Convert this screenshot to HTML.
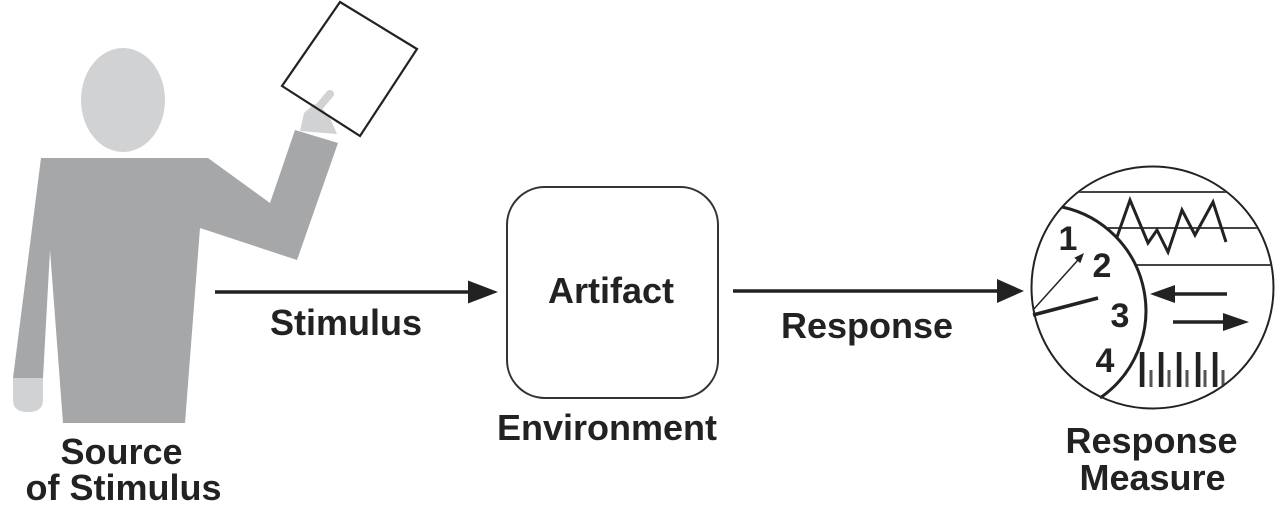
<!DOCTYPE html>
<html>
<head>
<meta charset="utf-8">
<style>
  html,body{margin:0;padding:0;background:#fff;}
  body{width:1284px;height:515px;overflow:hidden;}
  svg{display:block;}
  text{font-family:"Liberation Sans", Arial, sans-serif;font-weight:bold;fill:#222;}
</style>
</head>
<body>
<svg width="1284" height="515" viewBox="0 0 1284 515" xmlns="http://www.w3.org/2000/svg">
  <defs>
    <clipPath id="circ">
      <circle cx="1152.5" cy="287.5" r="120"/>
    </clipPath>
  </defs>

  <!-- Person -->
  <ellipse cx="123" cy="100" rx="42" ry="52" fill="#d1d2d4"/>
  <polygon points="41,158 208,158 270,203 295,130 338,143 297,260 200,228 185,423 63,423 50,250 43,378 13,378" fill="#a6a7a9"/>
  <!-- lower hand -->
  <path d="M13,378 L43,378 L43,400 Q43,412 28,412 Q13,412 13,400 Z" fill="#d1d2d4"/>
  <!-- paper fill -->
  <polygon points="340,2 417,49 360,136 282,86" fill="#fff"/>
  <!-- raised hand -->
  <polygon points="300,131 304,113 314,104 322,108 330,118 337,134" fill="#d1d2d4"/>
  <line x1="318" y1="108" x2="330" y2="94" stroke="#d1d2d4" stroke-width="8" stroke-linecap="round"/>
  <!-- paper outline -->
  <polygon points="340,2 417,49 360,136 282,86" fill="none" stroke="#222" stroke-width="2.2"/>

  <!-- Stimulus arrow -->
  <line x1="215" y1="292" x2="472" y2="292" stroke="#222" stroke-width="3.5"/>
  <polygon points="498,292 468,280.5 468,303.5" fill="#222"/>

  <!-- Artifact box -->
  <rect x="507" y="187" width="211" height="211" rx="38" ry="38" fill="none" stroke="#333" stroke-width="2"/>

  <!-- Response arrow -->
  <line x1="733" y1="291" x2="1000" y2="291" stroke="#222" stroke-width="3.5"/>
  <polygon points="1024,291 997,279 997,303" fill="#222"/>

  <!-- Response measure circle -->
  <g clip-path="url(#circ)">
    <line x1="1070" y1="192" x2="1240" y2="192" stroke="#444" stroke-width="2"/>
    <line x1="1108" y1="228" x2="1275" y2="228" stroke="#444" stroke-width="2"/>
    <line x1="1137" y1="265" x2="1275" y2="265" stroke="#444" stroke-width="2"/>
    <!-- bars -->
    <g fill="#222">
      <rect x="1139.8" y="352" width="4.6" height="35"/>
      <rect x="1158.8" y="352" width="4.6" height="35"/>
      <rect x="1176.8" y="352" width="4.6" height="35"/>
      <rect x="1195.8" y="352" width="4.6" height="35"/>
      <rect x="1212.8" y="352" width="4.6" height="35"/>
    </g>
    <g fill="#555">
      <rect x="1149.5" y="370" width="3" height="17"/>
      <rect x="1167.5" y="370" width="3" height="17"/>
      <rect x="1185.5" y="370" width="3" height="17"/>
      <rect x="1203.5" y="370" width="3" height="17"/>
      <rect x="1221.5" y="370" width="3" height="17"/>
    </g>
  </g>
  <circle cx="1152.5" cy="287.5" r="121" fill="none" stroke="#222" stroke-width="2"/>
  <!-- dividing arc -->
  <path d="M1062,207 A106,106 0 0 1 1100,398" fill="none" stroke="#222" stroke-width="3"/>
  <!-- zigzag -->
  <polyline points="1117,237 1130,200 1148,243 1157,230 1168,252 1182,210 1195,235 1213,202 1226,242" fill="none" stroke="#222" stroke-width="3"/>
  <!-- left arrow -->
  <line x1="1170" y1="294" x2="1227" y2="294" stroke="#222" stroke-width="3.5"/>
  <polygon points="1150,294 1175,285 1175,303" fill="#222"/>
  <!-- right arrow -->
  <line x1="1173" y1="322" x2="1226" y2="322" stroke="#222" stroke-width="3.5"/>
  <polygon points="1249,322 1223,313 1223,331" fill="#222"/>
  <!-- dial needle + thin arrow -->
  <line x1="1033" y1="315" x2="1098" y2="298" stroke="#222" stroke-width="3.5"/>
  <line x1="1033" y1="310" x2="1078" y2="260" stroke="#222" stroke-width="1.5"/>
  <polygon points="1084,253 1080.3,263.2 1074.3,257.8" fill="#222"/>
  <!-- digits -->
  <text x="1068" y="250" font-size="34" text-anchor="middle">1</text>
  <text x="1102" y="277" font-size="34" text-anchor="middle">2</text>
  <text x="1120" y="327" font-size="34" text-anchor="middle">3</text>
  <text x="1105" y="372" font-size="34" text-anchor="middle">4</text>

  <!-- Labels -->
  <text x="611" y="303" font-size="36" text-anchor="middle">Artifact</text>
  <text x="346" y="335" font-size="36" text-anchor="middle">Stimulus</text>
  <text x="867" y="338" font-size="36" text-anchor="middle">Response</text>
  <text x="607" y="440" font-size="36" text-anchor="middle">Environment</text>
  <text x="121.5" y="464" font-size="36" text-anchor="middle">Source</text>
  <text x="123.5" y="500" font-size="36" text-anchor="middle">of Stimulus</text>
  <text x="1151.5" y="453" font-size="36" text-anchor="middle">Response</text>
  <text x="1152.5" y="490" font-size="36" text-anchor="middle">Measure</text>
</svg>
</body>
</html>
